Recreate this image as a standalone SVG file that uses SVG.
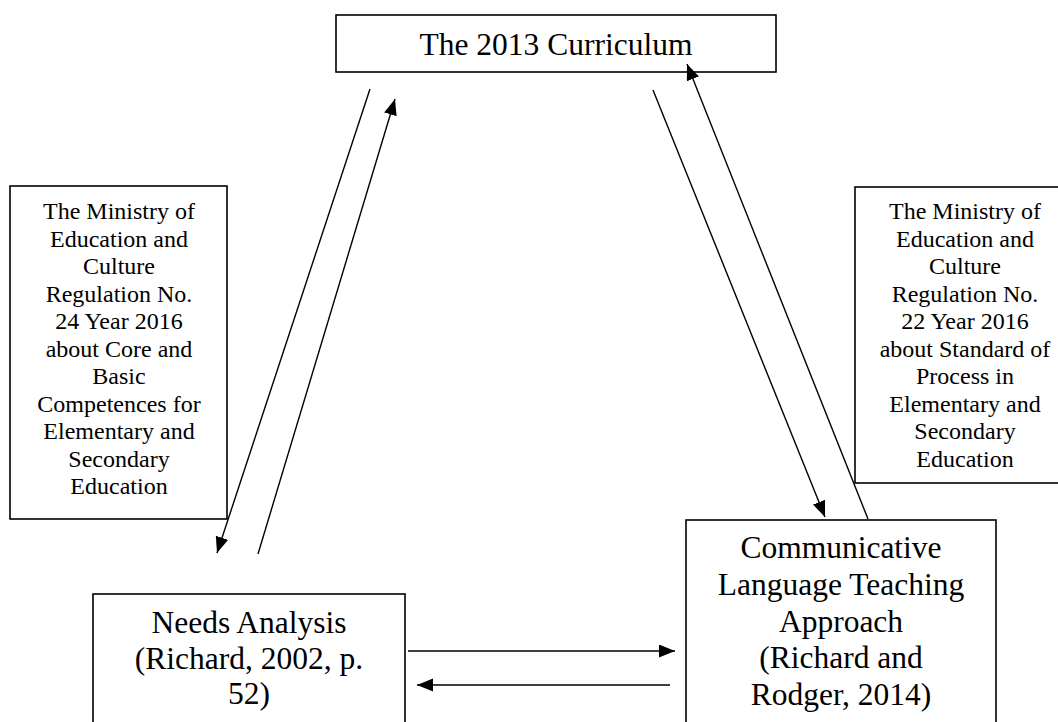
<svg xmlns="http://www.w3.org/2000/svg" width="1058" height="722" viewBox="0 0 1058 722">
  <style>
    .box { fill: #ffffff; stroke: #000000; stroke-width: 1.6; }
    .big { font-family: "Liberation Serif", "Times New Roman", serif; font-size: 31.5px; fill: #000000; text-anchor: middle; }
    .small { font-family: "Liberation Serif", "Times New Roman", serif; font-size: 24px; fill: #000000; text-anchor: middle; }
    .conn { stroke: #000000; stroke-width: 1.4; fill: none; }
  </style>
  <defs>
    <marker id="arrow" markerUnits="userSpaceOnUse" markerWidth="18" markerHeight="14" refX="16" refY="6.5" orient="auto">
      <path d="M0,0 L16,6.5 L0,13 z" fill="#000000"/>
    </marker>
  </defs>

  <rect width="1058" height="722" fill="#ffffff"/>

  <g id="curriculum">
    <rect class="box" x="336" y="15" width="440" height="57"/>
    <text class="big" x="556" y="55">The 2013 Curriculum</text>
  </g>

  <g id="regulation24">
    <rect class="box" x="10" y="186" width="217" height="333"/>
    <text class="small" x="119" y="219">The Ministry of</text>
    <text class="small" x="119" y="246.5">Education and</text>
    <text class="small" x="119" y="274">Culture</text>
    <text class="small" x="119" y="301.5">Regulation No.</text>
    <text class="small" x="119" y="329">24 Year 2016</text>
    <text class="small" x="119" y="356.5">about Core and</text>
    <text class="small" x="119" y="384">Basic</text>
    <text class="small" x="119" y="411.5">Competences for</text>
    <text class="small" x="119" y="439">Elementary and</text>
    <text class="small" x="119" y="466.5">Secondary</text>
    <text class="small" x="119" y="494">Education</text>
  </g>

  <g id="regulation22">
    <rect class="box" x="855" y="187" width="221" height="296"/>
    <text class="small" x="965" y="219">The Ministry of</text>
    <text class="small" x="965" y="246.5">Education and</text>
    <text class="small" x="965" y="274">Culture</text>
    <text class="small" x="965" y="301.5">Regulation No.</text>
    <text class="small" x="965" y="329">22 Year 2016</text>
    <text class="small" x="965" y="356.5">about Standard of</text>
    <text class="small" x="965" y="384">Process in</text>
    <text class="small" x="965" y="411.5">Elementary and</text>
    <text class="small" x="965" y="439">Secondary</text>
    <text class="small" x="965" y="466.5">Education</text>
  </g>

  <g id="needs">
    <rect class="box" x="93" y="594" width="312" height="140"/>
    <text class="big" x="249" y="633">Needs Analysis</text>
    <text class="big" x="249" y="669">(Richard, 2002, p.</text>
    <text class="big" x="249" y="704">52)</text>
  </g>

  <g id="clt">
    <rect class="box" x="686" y="520" width="310" height="215"/>
    <text class="big" x="841" y="558">Communicative</text>
    <text class="big" x="841" y="595">Language Teaching</text>
    <text class="big" x="841" y="632">Approach</text>
    <text class="big" x="841" y="668">(Richard and</text>
    <text class="big" x="841" y="705">Rodger, 2014)</text>
  </g>

  <g id="connectors">
    <line class="conn" x1="370" y1="89" x2="217" y2="553" marker-end="url(#arrow)"/>
    <line class="conn" x1="258" y1="554" x2="395" y2="99" marker-end="url(#arrow)"/>
    <line class="conn" x1="653" y1="90" x2="825" y2="517" marker-end="url(#arrow)"/>
    <line class="conn" x1="868" y1="519" x2="687" y2="64" marker-end="url(#arrow)"/>
    <line class="conn" x1="408" y1="651" x2="675" y2="651" marker-end="url(#arrow)"/>
    <line class="conn" x1="670" y1="685" x2="417" y2="685" marker-end="url(#arrow)"/>
  </g>
</svg>
